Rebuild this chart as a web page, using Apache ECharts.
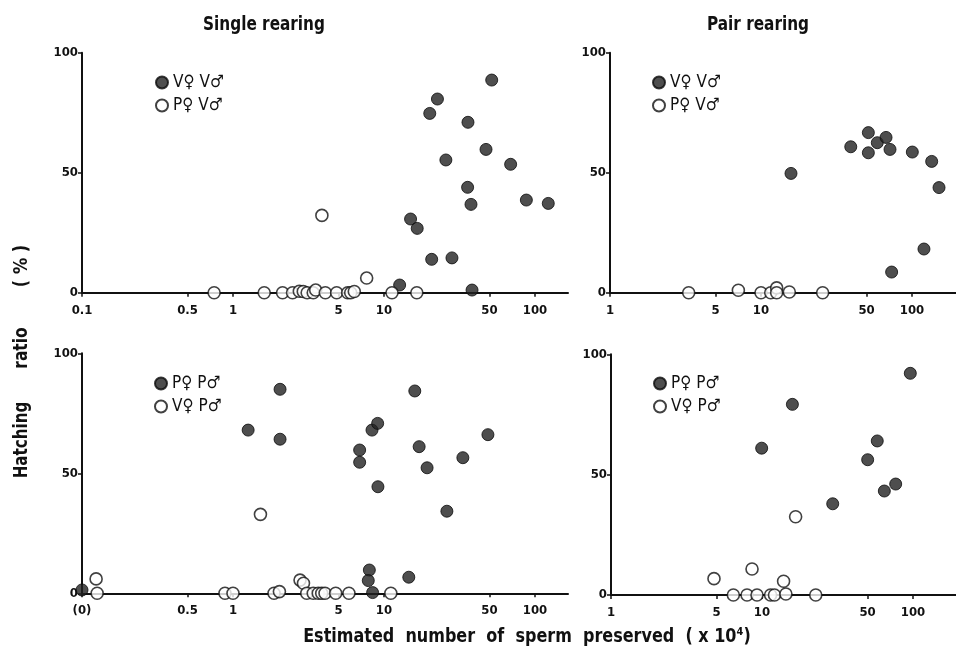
<!DOCTYPE html>
<html>
<head>
<meta charset="utf-8">
<script src="https://cdn.jsdelivr.net/npm/echarts@6/dist/echarts.min.js"></script>
<style>
html,body{margin:0;padding:0;background:#fff;}
#chart{width:956px;height:657px;}
</style>
</head>
<body>
<div id="chart"></div>
<script>
// ---------- data ----------
const panelTitles = ['Single rearing', 'Pair rearing'];
const seriesNamesTop = ['V\u2640 V\u2642', 'P\u2640 V\u2642'];
const seriesNamesBottom = ['P\u2640 P\u2642', 'V\u2640 P\u2642'];

const xTicksSingle = [0.1, 0.5, 1, 5, 10, 50, 100];
const xTicksPair = [1, 5, 10, 50, 100];
const yTicks = [0, 50, 100];

// Single rearing, V♀V♂ (filled)
const sTopFilledX = [12.7, 15.0, 16.6, 20.1, 22.6, 20.7, 25.7, 28.2, 36, 35.8, 37.7, 38.3, 51.7, 47.4, 69, 87.7, 122.5];
const sTopFilledY = [3.2, 30.7, 26.8, 74.7, 80.7, 13.9, 55.3, 14.5, 71, 43.9, 36.8, 1.1, 88.6, 59.7, 53.5, 38.6, 37.2];
// Single rearing, P♀V♂ (open)
const sTopOpenX = [0.75, 1.61, 2.13, 2.48, 2.75, 2.92, 3.1, 3.4, 3.53, 4.09, 4.86, 5.75, 6.02, 6.36, 7.68, 3.88, 11.3, 16.5];
const sTopOpenY = [0, 0, 0, 0, 0.6, 0.5, 0, 0, 1.1, 0, 0, 0, 0, 0.5, 6.1, 32.2, 0, 0];

// Pair rearing, V♀V♂ (filled)
const pTopFilledX = [15.8, 39.3, 51.4, 51.4, 58.9, 67.3, 71.5, 73.3, 100.5, 120, 135, 151];
const pTopFilledY = [49.7, 60.8, 66.7, 58.3, 62.5, 64.7, 59.7, 8.6, 58.6, 18.2, 54.7, 43.8];
// Pair rearing, P♀V♂ (open)
const pTopOpenX = [3.32, 7.08, 10, 11.6, 12.7, 12.7, 15.4, 25.6];
const pTopOpenY = [0, 1.0, 0, 0, 2.0, 0, 0.3, 0];

// Single rearing, P♀P♂ (filled); x = 0 is plotted at the "(0)" position
const sBotFilledX = [0, 1.26, 2.05, 2.05, 6.9, 6.9, 8.33, 9.08, 9.12, 8.0, 7.87, 8.41, 14.6, 16.0, 17.1, 19.3, 26.1, 33.3, 48.8];
const sBotFilledY = [1.4, 68, 85, 64.2, 59.7, 54.6, 68, 70.8, 44.4, 9.7, 5.3, 0.3, 6.7, 84.3, 61.1, 52.3, 34.2, 56.5, 66.1];
// Single rearing, V♀P♂ (open)
const sBotOpenX = [0.124, 0.126, 0.885, 1.0, 1.87, 2.03, 1.52, 2.78, 2.93, 3.08, 3.4, 3.67, 3.87, 4.07, 4.79, 5.86, 11.1];
const sBotOpenY = [6.0, 0, 0, 0, 0, 0.7, 32.9, 5.5, 4.2, 0, 0, 0, 0, 0, 0, 0, 0];

// Pair rearing, P♀P♂ (filled)
const pBotFilledX = [9.95, 15.9, 29.4, 50.1, 58, 64.6, 76.8, 96];
const pBotFilledY = [61, 79.2, 37.9, 56.2, 64, 43.2, 46.1, 92.1];
// Pair rearing, V♀P♂ (open)
const pBotOpenX = [4.81, 6.46, 7.96, 8.59, 9.27, 11.4, 12.1, 13.9, 14.4, 16.7, 22.7];
const pBotOpenY = [6.8, 0, 0, 10.8, 0, 0, 0, 5.7, 0.4, 32.5, 0];

// ---------- chart ----------
const FONT = "'Liberation Sans Narrow', 'DejaVu Sans Condensed', 'Liberation Sans', sans-serif";
const ZERO_POS = 0.1;

function pts(xs, ys) {
  return xs.map((x, i) => [x === 0 ? ZERO_POS : x, ys[i]]);
}

const grids = [
  { left: 82, top: 52.7, width: 486, height: 240 },
  { left: 610, top: 52.7, width: 346, height: 240 },
  { left: 82, top: 353.3, width: 486, height: 240 },
  { left: 611, top: 354.3, width: 345, height: 240.7 }
];

const labelStyle = { color: '#111', fontFamily: FONT, fontWeight: 'bold', fontSize: 13 };

function xAxis(gi, min, max, ticks, fmt) {
  return {
    type: 'log', logBase: 10, gridIndex: gi, min: min, max: max,
    splitLine: { show: false },
    axisLine: { show: true, lineStyle: { color: '#111', width: 2 } },
    axisTick: { show: true, length: 4, inside: false, customValues: ticks, lineStyle: { color: '#111', width: 1.5 } },
    minorTick: { show: false },
    axisLabel: Object.assign({ margin: 11, customValues: ticks, formatter: fmt || (v => String(v)) }, labelStyle)
  };
}
function yAxis(gi) {
  return {
    type: 'value', gridIndex: gi, min: 0, max: 100, interval: 50,
    splitLine: { show: false },
    axisLine: { show: true, lineStyle: { color: '#111', width: 2 } },
    axisTick: { show: true, length: 4, lineStyle: { color: '#111', width: 1.5 } },
    axisLabel: Object.assign({ margin: 4 }, labelStyle)
  };
}

const filledStyle = { color: '#222', borderColor: '#0a0a0a', borderWidth: 1 };
const openStyle = { color: '#fff', borderColor: '#111', borderWidth: 1.6 };

function sc(name, gi, data, filled) {
  return {
    type: 'scatter', name: name, xAxisIndex: gi, yAxisIndex: gi,
    data: data, symbol: 'circle', symbolSize: 12,
    itemStyle: filled ? filledStyle : openStyle,
    clip: false, z: filled ? 3 : 4
  };
}

function legend(left, top, names) {
  return {
    left: left, top: top, orient: 'vertical', itemGap: 6,
    itemWidth: 12, itemHeight: 12, icon: 'circle',
    selectedMode: false,
    data: names,
    textStyle: { fontFamily: "'DejaVu Sans Condensed', 'Liberation Sans Narrow', sans-serif", fontSize: 17, color: '#111' }
  };
}

function txt(x, y, s, size, sx, rot) {
  return {
    type: 'text', x: x, y: y, rotation: rot || 0, scaleX: sx, scaleY: 1,
    style: { text: s, font: 'bold ' + size + 'px ' + FONT, fill: '#111', align: 'center', verticalAlign: 'middle' }
  };
}

const chart = echarts.init(document.getElementById('chart'), null, { renderer: 'canvas' });
chart.setOption({
  backgroundColor: '#fff',
  animation: false,
  grid: grids,
  xAxis: [
    xAxis(0, 0.1, 165.5, xTicksSingle),
    xAxis(1, 1, 195.6, xTicksPair),
    xAxis(2, 0.1, 165.5, xTicksSingle, v => (Math.abs(v - ZERO_POS) < 1e-9 ? '(0)' : String(v))),
    xAxis(3, 1, 192.7, xTicksPair)
  ],
  yAxis: [yAxis(0), yAxis(1), yAxis(2), yAxis(3)],
  legend: [
    legend(150, 69, seriesNamesTop),
    legend(647, 69, seriesNamesTop),
    legend(149, 370, seriesNamesBottom),
    legend(648, 370, seriesNamesBottom)
  ],
  series: [
    sc(seriesNamesTop[0], 0, pts(sTopFilledX, sTopFilledY), true),
    sc(seriesNamesTop[1], 0, pts(sTopOpenX, sTopOpenY), false),
    sc(seriesNamesTop[0], 1, pts(pTopFilledX, pTopFilledY), true),
    sc(seriesNamesTop[1], 1, pts(pTopOpenX, pTopOpenY), false),
    sc(seriesNamesBottom[0], 2, pts(sBotFilledX, sBotFilledY), true),
    sc(seriesNamesBottom[1], 2, pts(sBotOpenX, sBotOpenY), false),
    sc(seriesNamesBottom[0], 3, pts(pBotFilledX, pBotFilledY), true),
    sc(seriesNamesBottom[1], 3, pts(pBotOpenX, pBotOpenY), false)
  ],
  graphic: [
    txt(264, 25, panelTitles[0], 20, 0.85),
    txt(758, 25, panelTitles[1], 20, 0.85),
    txt(22, 440, 'Hatching', 20, 0.84, Math.PI / 2),
    txt(22, 348, 'ratio', 20, 0.86, Math.PI / 2),
    txt(22, 266, '( % )', 20, 0.9, Math.PI / 2),
    txt(527, 637, 'Estimated  number  of  sperm  preserved  ( x 10\u2074)', 20, 0.89)
  ]
});
</script>
</body>
</html>
